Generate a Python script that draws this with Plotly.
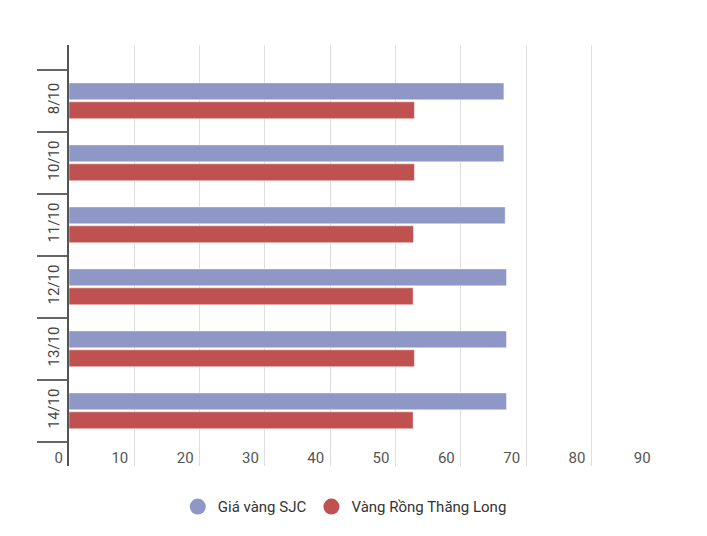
import plotly.graph_objects as go

categories = ["8/10", "10/10", "11/10", "12/10", "13/10", "14/10"]
sjc = [66.6, 66.6, 66.8, 67.0, 67.0, 67.0]
rong = [52.9, 52.9, 52.75, 52.7, 52.9, 52.7]
x_ticks = [0, 10, 20, 30, 40, 50, 60, 70, 80, 90]
series_names = ["Giá vàng SJC", "Vàng Rồng Thăng Long"]
colors = ["#8e97c5", "#c05151"]

fig = go.Figure()
# bars added in reverse so that SJC sits on top within each group (axis runs bottom-up)
for name, vals, col in list(zip(series_names, [sjc, rong], colors))[::-1]:
    fig.add_trace(go.Bar(
        x=vals, y=categories, orientation="h", name=name,
        marker=dict(color=col, line=dict(color="rgba(255,255,255,0.45)", width=1)),
        showlegend=False, hoverinfo="x+name",
    ))
for name, col in zip(series_names, colors):
    fig.add_trace(go.Scatter(
        x=[None], y=[None], mode="markers", name=name,
        marker=dict(color=col, size=18, symbol="circle"),
    ))

fig.update_layout(
    width=707, height=536,
    margin=dict(l=69, r=50, t=45, b=70),
    paper_bgcolor="white", plot_bgcolor="white",
    font=dict(family="Roboto, sans-serif", size=15, color="#555"),
    barmode="group", bargap=0.39, bargroupgap=0.11,
    legend=dict(orientation="h", x=0.469, xanchor="center", y=-0.097, yanchor="middle",
                font=dict(size=15, color="#333"), itemsizing="trace",
                traceorder="normal"),
    xaxis=dict(range=[0, 90.05], tickvals=x_ticks, ticktext=[str(v) for v in x_ticks],
               showgrid=True, gridcolor="#dedede", gridwidth=1, zeroline=False,
               showline=False, ticks="", ticklabelposition="inside left",
               ticklabeloverflow="allow", ticklabelstandoff=-6, ticklabelshift=-6,
               tickfont=dict(size=15, color="#555")),
    yaxis=dict(categoryorder="array", categoryarray=categories[::-1],
               range=[-0.89, 5.9], showgrid=False, zeroline=False,
               showline=True, linecolor="#555", linewidth=2,
               ticks="outside", ticklen=30, tickcolor="#666", tickwidth=1.5,
               tickson="boundaries", tickangle=-90, ticklabelstandoff=2,
               tickfont=dict(size=15, color="#444")),
)

fig.write_html("out.html")
